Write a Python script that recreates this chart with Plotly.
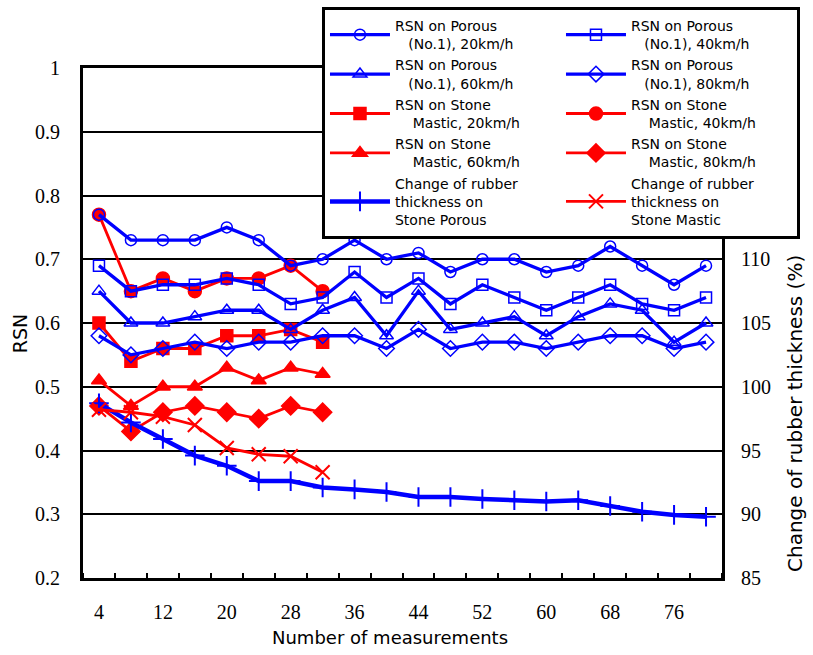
import plotly.graph_objects as go

x_porous = [4, 8, 12, 16, 20, 24, 28, 32, 36, 40, 44, 48, 52, 56, 60, 64, 68, 72, 76, 80]
x_stone = [4, 8, 12, 16, 20, 24, 28, 32]

porous20 = [0.77, 0.73, 0.73, 0.73, 0.75, 0.73, 0.69, 0.70, 0.73, 0.70, 0.71, 0.68, 0.70, 0.70, 0.68, 0.69, 0.72, 0.69, 0.66, 0.69]
porous40 = [0.69, 0.65, 0.66, 0.66, 0.67, 0.66, 0.63, 0.64, 0.68, 0.64, 0.67, 0.63, 0.66, 0.64, 0.62, 0.64, 0.66, 0.63, 0.62, 0.64]
porous60 = [0.65, 0.60, 0.60, 0.61, 0.62, 0.62, 0.59, 0.62, 0.64, 0.58, 0.65, 0.59, 0.60, 0.61, 0.58, 0.61, 0.63, 0.62, 0.57, 0.60]
porous80 = [0.58, 0.55, 0.56, 0.57, 0.56, 0.57, 0.57, 0.58, 0.58, 0.56, 0.59, 0.56, 0.57, 0.57, 0.56, 0.57, 0.58, 0.58, 0.56, 0.57]
stone20 = [0.60, 0.54, 0.56, 0.56, 0.58, 0.58, 0.59, 0.57]
stone40 = [0.77, 0.65, 0.67, 0.65, 0.67, 0.67, 0.69, 0.65]
stone60 = [0.51, 0.47, 0.50, 0.50, 0.53, 0.51, 0.53, 0.52]
stone80 = [0.47, 0.43, 0.46, 0.47, 0.46, 0.45, 0.47, 0.46]
rubber_porous = [98.7, 97.2, 95.9, 94.6, 93.8, 92.6, 92.6, 92.1, 91.95, 91.75, 91.35, 91.35, 91.2, 91.1, 91.0, 91.1, 90.65, 90.2, 89.95, 89.8]
rubber_stone = [98.2, 98.0, 97.65, 97.0, 95.2, 94.7, 94.55, 93.3]

x_tick_vals = [4, 12, 20, 28, 36, 44, 52, 60, 68, 76]
y_tick_vals = [0.2, 0.3, 0.4, 0.5, 0.6, 0.7, 0.8, 0.9, 1.0]
y_tick_text = ["0.2", "0.3", "0.4", "0.5", "0.6", "0.7", "0.8", "0.9", "1"]
y2_tick_vals = [85, 90, 95, 100, 105, 110]

BLUE = "#0000FF"
RED = "#FF0000"
NB = "\u00a0"

fig = go.Figure()

def add(x, y, name, color, symbol, size, lw, rank, yaxis="y", mlw=1.5):
    fig.add_trace(go.Scatter(
        x=x, y=y, name=name, mode="lines+markers", yaxis=yaxis,
        line=dict(color=color, width=lw),
        marker=dict(symbol=symbol, size=size, color=color,
                    line=dict(color=color, width=mlw)),
        legendrank=rank,
    ))

# red (stone mastic) drawn first so blue markers sit on top
add(x_stone, stone20, "RSN on Stone<br>" + NB * 4 + "Mastic, 20km/h", RED, "square", 12, 2.8, 5)
add(x_stone, stone40, "RSN on Stone<br>" + NB * 4 + "Mastic, 40km/h", RED, "circle", 13, 2.8, 6)
add(x_stone, stone60, "RSN on Stone<br>" + NB * 4 + "Mastic, 60km/h", RED, "triangle-up", 13, 2.8, 7)
add(x_stone, stone80, "RSN on Stone<br>" + NB * 4 + "Mastic, 80km/h", RED, "diamond", 14, 2.8, 8)
add(x_porous, porous20, "RSN on Porous<br>" + NB * 3 + "(No.1), 20km/h", BLUE, "circle-open", 11, 3.3, 1)
add(x_porous, porous40, "RSN on Porous<br>" + NB * 3 + "(No.1), 40km/h", BLUE, "square-open", 11, 3.3, 2)
add(x_porous, porous60, "RSN on Porous<br>" + NB * 3 + "(No.1), 60km/h", BLUE, "triangle-up-open", 12, 3.3, 3)
add(x_porous, porous80, "RSN on Porous<br>" + NB * 3 + "(No.1), 80km/h", BLUE, "diamond-open", 12, 3.3, 4)
add(x_porous, rubber_porous, "Change of rubber<br>thickness on<br>Stone Porous", BLUE, "cross-thin", 14, 4.5, 9, yaxis="y2", mlw=2)
add(x_stone, rubber_stone, "Change of rubber<br>thickness on<br>Stone Mastic", RED, "x-thin", 14, 2.8, 10, yaxis="y2", mlw=2)

tick_font = dict(family="Liberation Serif", size=20, color="black")
title_font = dict(family="DejaVu Sans", size=18, color="black")

fig.update_layout(
    width=813, height=655,
    margin=dict(l=83, r=91, t=68, b=77, autoexpand=False),
    paper_bgcolor="white", plot_bgcolor="white",
    showlegend=True,
    xaxis=dict(
        range=[2, 82], tickvals=x_tick_vals, ticks="", tickfont=tick_font,
        ticklabelstandoff=14,
        showline=True, linecolor="black", linewidth=3, mirror=True,
        showgrid=False, zeroline=False,
        minor=dict(tick0=2, dtick=4, ticks="inside", ticklen=5, tickwidth=1.5, tickcolor="black", showgrid=False),
    ),
    yaxis=dict(
        range=[0.2, 1.0], tickvals=y_tick_vals, ticktext=y_tick_text, ticks="",
        tickfont=tick_font, ticklabelstandoff=16,
        showline=True, linecolor="black", linewidth=3, mirror=True,
        showgrid=True, gridcolor="black", gridwidth=2, zeroline=False,
    ),
    yaxis2=dict(
        range=[85, 125], tickvals=y2_tick_vals, ticks="", overlaying="y", side="right",
        tickfont=tick_font, ticklabelstandoff=12,
        showline=True, linecolor="black", linewidth=3,
        showgrid=False, zeroline=False,
    ),
    legend=dict(
        orientation="h", x=0.374, xanchor="left", y=1.1196, yanchor="top",
        bgcolor="white", bordercolor="black", borderwidth=3,
        font=dict(family="DejaVu Sans", size=14, color="black"),
        itemwidth=60, entrywidth=161, entrywidthmode="pixels",
        tracegroupgap=0, valign="middle",
    ),
    annotations=[
        dict(text="RSN", xref="paper", yref="paper", x=-0.0986, y=0.48,
             textangle=-90, showarrow=False, font=dict(family="DejaVu Sans", size=19, color="black"),
             xanchor="center", yanchor="middle"),
        dict(text="Number of measurements", xref="paper", yref="paper", x=0.48, y=-0.1176,
             showarrow=False, font=title_font, xanchor="center", yanchor="middle"),
        dict(text="Change of rubber thickness (%)", xref="paper", yref="paper", x=1.1142, y=0.3235,
             textangle=-90, showarrow=False, font=dict(family="DejaVu Sans", size=20, color="black"),
             xanchor="center", yanchor="middle"),
    ],
)

fig.write_html("out.html")
